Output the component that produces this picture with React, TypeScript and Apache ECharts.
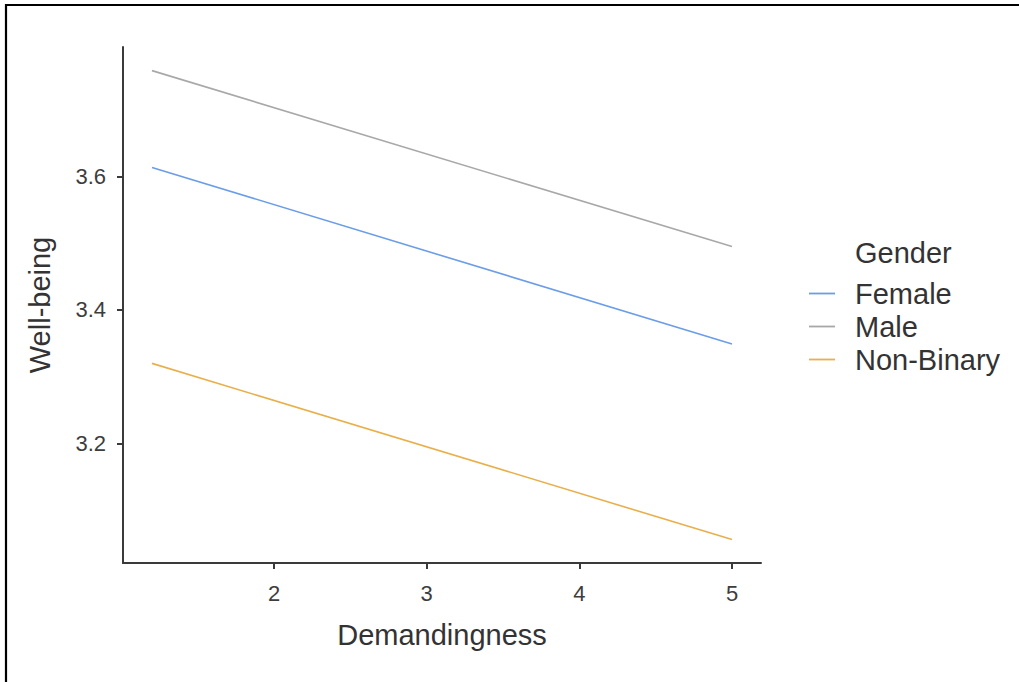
import React, { useEffect, useRef } from "react";
import * as echarts from "echarts";

const xValues = [1.2, 5];
const femaleValues = [3.6135, 3.349];
const maleValues = [3.7586, 3.495];
const nonBinaryValues = [3.32, 3.056];
const seriesNames = ["Female", "Male", "Non-Binary"];
const seriesColors = ["#6B9DE8", "#A8A8A8", "#E9AF4A"];
const xTicks = [2, 3, 4, 5];
const yTicks = [3.2, 3.4, 3.6];

const FONT = "Liberation Sans, Arial, Helvetica, sans-serif";

export default function App() {
  const ref = useRef<HTMLDivElement>(null);
  useEffect(() => {
    if (!ref.current) return;
    const chart = echarts.init(ref.current, null, { renderer: "svg" });
    const allValues = [femaleValues, maleValues, nonBinaryValues];
    const series = seriesNames.map((name, si) => ({
      name,
      type: "line",
      symbol: "none",
      data: xValues.map((x, i) => [x, allValues[si][i]]),
      lineStyle: { color: seriesColors[si], width: 1.6 },
      itemStyle: { color: seriesColors[si] },
      emphasis: { disabled: true },
    }));
    chart.setOption({
      animation: false,
      backgroundColor: "#ffffff",
      textStyle: { fontFamily: FONT },
      grid: { left: 123, right: 258, top: 47, bottom: 119 },
      xAxis: {
        type: "value",
        min: 1.01,
        max: 5.19,
        name: "Demandingness",
        nameLocation: "middle",
        nameGap: 57,
        nameTextStyle: { fontSize: 29, color: "#333333", fontFamily: FONT },
        axisLine: { show: true, onZero: false, lineStyle: { color: "#3a3a3a", width: 2 } },
        axisTick: { show: true, customValues: xTicks, length: 6, lineStyle: { color: "#3a3a3a", width: 2 } },
        axisLabel: { customValues: xTicks, fontSize: 22, color: "#3d3d3d", margin: 19, fontFamily: FONT },
        splitLine: { show: false },
      },
      yAxis: {
        type: "value",
        min: 3.0209,
        max: 3.794,
        name: "Well-being",
        nameLocation: "middle",
        nameGap: 69,
        nameRotate: 90,
        nameTextStyle: { fontSize: 29, color: "#333333", fontFamily: FONT },
        axisLine: { show: true, onZero: false, lineStyle: { color: "#3a3a3a", width: 2 } },
        axisTick: { show: true, customValues: yTicks, length: 6, lineStyle: { color: "#3a3a3a", width: 2 } },
        axisLabel: { customValues: yTicks, fontSize: 22, color: "#3d3d3d", margin: 17, fontFamily: FONT },
        splitLine: { show: false },
      },
      legend: {
        orient: "vertical",
        left: 809,
        top: 279,
        padding: 0,
        icon: "rect",
        itemWidth: 26,
        itemHeight: 1.8,
        itemGap: 4,
        data: seriesNames,
        textStyle: { fontSize: 29, lineHeight: 29, color: "#333333", fontFamily: FONT, padding: [0, 0, 0, 15] },
      },
      graphic: [
        {
          type: "line",
          shape: { x1: 5, y1: 5, x2: 1019, y2: 5 },
          style: { stroke: "#000000", lineWidth: 2.2 },
        },
        {
          type: "line",
          shape: { x1: 6, y1: 4, x2: 6, y2: 682 },
          style: { stroke: "#000000", lineWidth: 2.2 },
        },
        {
          type: "text",
          x: 855,
          y: 252.5,
          style: {
            text: "Gender",
            fontSize: 29,
            fontFamily: FONT,
            fill: "#333333",
            textAlign: "left",
            textVerticalAlign: "middle",
          },
        },
      ],
      series,
    });
    return () => chart.dispose();
  }, []);
  return (
    <div
      ref={ref}
      style={{ position: "absolute", left: 0, top: 0, width: 1019, height: 682 }}
    />
  );
}
